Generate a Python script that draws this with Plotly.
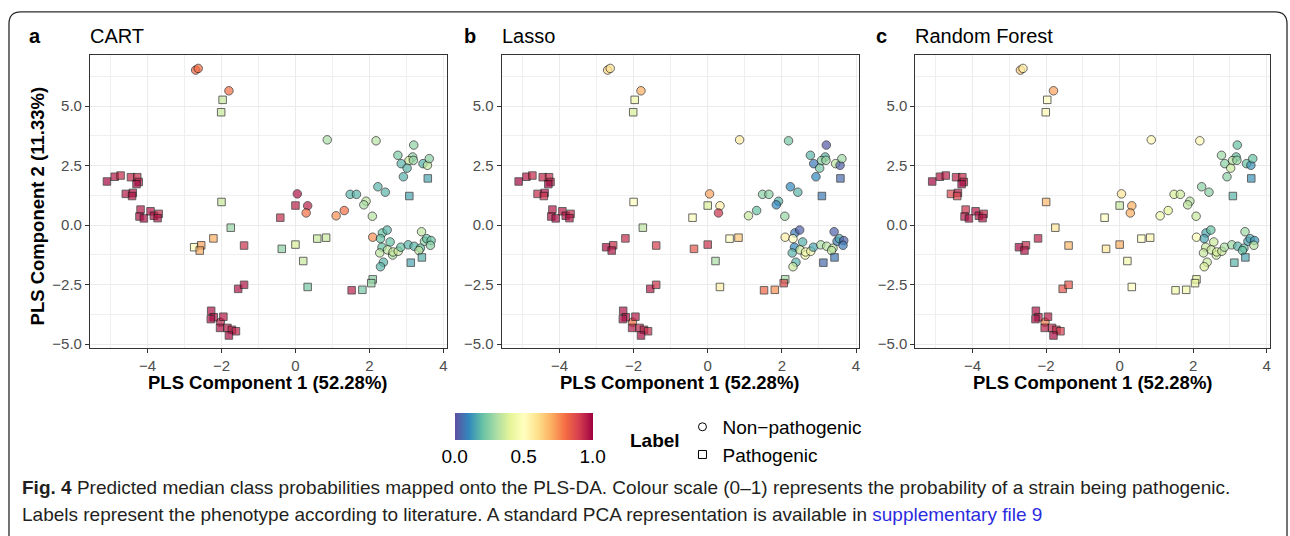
import plotly.graph_objects as go

# ---------------- data ----------------
pc1 = [-2.03, -2.70, -2.63, -1.80,
       0.86, 2.18, 3.20, 2.77, 3.17, 3.07, 3.19, 2.86, 3.02, 2.92, 3.45, 3.57, 3.62,
       2.23, 2.43, 1.48, 1.65, 1.91, 1.85, 2.08, 0.05, 0.33, 0.29, 1.10, 1.32, 2.09,
       2.35, 2.48, 2.30, 2.56, 2.34, 2.28, 2.49, 2.63, 2.64, 2.78, 2.85, 3.05, 3.21,
       3.38, 3.34, 3.41, 3.49, 3.55, 3.67, 3.65, 2.38, 2.30,
       -1.97, -2.01,
       -5.10, -4.89, -4.73, -4.45, -4.28, -4.24, -4.30, -4.59, -4.40, -4.42, -4.19,
       -4.22, -4.10, -3.92, -3.83, -3.70, -3.73,
       -2.00, -1.75, -2.22, -2.74, -2.55, -2.59, -1.39, -1.55, -1.39,
       -2.28, -2.21, -2.29, -1.95, -2.04, -1.84, -1.72, -1.61, -1.80,
       0.00, -0.41, 0.59, 0.83, 0.00, -0.37, 0.21, 0.33, 1.52, 1.81, 2.09, 2.05,
       3.58, 3.08, 3.12, 3.42]
pc2 = [-4.08, 6.51, 6.58, 5.64,
       3.58, 3.54, 3.36, 2.93, 2.86, 2.71, 2.72, 2.58, 2.39, 2.03, 2.58, 2.51, 2.79,
       1.61, 1.38, 1.29, 1.29, 1.00, 0.85, 0.37, 1.31, 0.81, 0.51, 0.39, 0.61, -0.51,
       -0.33, -0.21, -0.57, -0.71, -0.93, -1.17, -1.04, -1.26, -1.13, -1.10, -0.93, -0.83, -0.89,
       -0.97, -1.07, -0.28, -0.68, -0.57, -0.65, -0.85, -1.56, -1.75,
       5.26, 4.74,
       1.83, 2.03, 2.08, 2.01, 2.01, 1.81, 1.72, 1.31, 1.35, 1.22, 0.65,
       0.36, 0.28, 0.58, 0.39, 0.47, 0.29,
       0.97, -0.11, -0.56, -0.93, -0.85, -1.07, -0.86, -2.68, -2.51,
       -3.60, -3.87, -3.95, -3.85, -4.32, -4.32, -4.40, -4.46, -4.64,
       0.82, 0.31, -0.57, -0.53, -0.82, -1.00, -1.51, -2.60, -2.74, -2.72, -2.28, -2.44,
       1.96, 1.22, -1.58, -1.36]
label = (["Non-pathogenic"] * 52) + (["Pathogenic"] * 54)
prob_cart = [0.95, 0.82, 0.80, 0.80,
             0.30, 0.32, 0.26, 0.23, 0.26, 0.36, 0.27, 0.18, 0.18, 0.17, 0.17, 0.34, 0.25,
             0.18, 0.18, 0.18, 0.18, 0.33, 0.30, 0.32, 0.97, 0.95, 0.80, 0.75, 0.80, 0.75,
             0.20, 0.18, 0.20, 0.20, 0.20, 0.33, 0.33, 0.30, 0.35, 0.35, 0.20, 0.18, 0.18,
             0.20, 0.33, 0.33, 0.25, 0.20, 0.20, 0.25, 0.18, 0.18,
             0.35, 0.35,
             0.99, 0.96, 0.93, 0.94, 0.93, 0.95, 0.99, 0.96, 0.97, 0.97, 0.96,
             0.97, 0.98, 0.97, 0.97, 0.93, 0.97,
             0.35, 0.27, 0.70, 0.52, 0.72, 0.70, 0.92, 0.97, 0.97,
             0.97, 0.97, 0.98, 0.96, 0.97, 0.96, 0.95, 0.95, 0.98,
             0.95, 0.93, 0.35, 0.35, 0.38, 0.25, 0.35, 0.22, 0.95, 0.22, 0.25, 0.27,
             0.15, 0.15, 0.15, 0.17]
prob_lasso = [0.80, 0.62, 0.58, 0.70,
              0.56, 0.22, 0.02, 0.18, 0.18, 0.25, 0.28, 0.08, 0.22, 0.10, 0.33, 0.03, 0.28,
              0.10, 0.18, 0.25, 0.25, 0.18, 0.10, 0.27, 0.72, 0.55, 0.92, 0.35, 0.20, 0.55,
              0.08, 0.03, 0.50, 0.17, 0.10, 0.18, 0.35, 0.45, 0.45, 0.45, 0.15, 0.30, 0.32,
              0.33, 0.33, 0.03, 0.08, 0.15, 0.03, 0.08, 0.17, 0.35,
              0.45, 0.38,
              0.99, 0.96, 0.93, 0.94, 0.93, 0.95, 0.99, 0.93, 0.97, 0.92, 0.96,
              0.97, 0.98, 0.96, 0.97, 0.93, 0.97,
              0.50, 0.33, 0.93, 0.98, 0.93, 0.97, 0.90, 0.96, 0.92,
              0.97, 0.97, 0.98, 0.96, 0.96, 0.95, 0.94, 0.93, 0.98,
              0.38, 0.48, 0.50, 0.65, 0.92, 0.85, 0.30, 0.55, 0.82, 0.75, 0.30, 0.88,
              0.05, 0.08, 0.05, 0.07]
prob_rf = [0.78, 0.65, 0.55, 0.72,
           0.52, 0.52, 0.20, 0.28, 0.20, 0.32, 0.27, 0.25, 0.35, 0.25, 0.20, 0.12, 0.20,
           0.25, 0.25, 0.38, 0.36, 0.32, 0.33, 0.35, 0.58, 0.70, 0.70, 0.45, 0.40, 0.47,
           0.15, 0.20, 0.15, 0.35, 0.35, 0.35, 0.35, 0.36, 0.38, 0.35, 0.30, 0.28, 0.18,
           0.20, 0.20, 0.28, 0.15, 0.15, 0.12, 0.32, 0.35, 0.38,
           0.50, 0.52,
           0.99, 0.97, 0.95, 0.95, 0.93, 0.95, 0.99, 0.88, 0.96, 0.88, 0.92,
           0.96, 0.98, 0.96, 0.97, 0.94, 0.97,
           0.68, 0.58, 0.95, 0.99, 0.93, 0.97, 0.68, 0.85, 0.85,
           0.97, 0.96, 0.98, 0.96, 0.95, 0.94, 0.93, 0.90, 0.98,
           0.35, 0.50, 0.50, 0.53, 0.70, 0.58, 0.45, 0.50, 0.45, 0.45, 0.40, 0.42,
           0.12, 0.18, 0.18, 0.15]

models = ["CART", "Lasso", "Random Forest"]
panel_letters = ["a", "b", "c"]
probs = [prob_cart, prob_lasso, prob_rf]
x_tickvals = [-4, -2, 0, 2, 4]
x_ticktext = ["\u22124", "\u22122", "0", "2", "4"]
y_tickvals = [-5, -2.5, 0, 2.5, 5]
y_ticktext = ["\u22125.0", "\u22122.5", "0.0", "2.5", "5.0"]
cbar_tickvals = [0, 0.5, 1.0]
cbar_ticktext = ["0.0", "0.5", "1.0"]
x_title = "PLS Component 1 (52.28%)"
y_title = "PLS Component 2 (11.33%)"

# ---------------- styling ----------------
W, H = 1290, 536
spectral_r = ["#5E4FA2", "#3288BD", "#66C2A5", "#ABDDA4", "#E6F598", "#FFFFBF",
              "#FEE08B", "#FDAE61", "#F46D43", "#D53E4F", "#9E0142"]
colorscale = [[i / 10, c] for i, c in enumerate(spectral_r)]
FONT = "Liberation Sans, Arial, Helvetica, sans-serif"


def px_x(p):
    return p / W


def px_y(p):
    return 1 - p / H


x_domains_px = [(90, 447), (502, 860), (916, 1271)]
y_domain_px = (55.5, 351)
letter_x = [35, 470, 882]

symbols = ["circle" if l == "Non-pathogenic" else "square" for l in label]
sizes = [8.5 if l == "Non-pathogenic" else 7.5 for l in label]

fig = go.Figure()
for i in range(3):
    suffix = "" if i == 0 else str(i + 1)
    fig.add_trace(go.Scatter(
        x=pc1, y=pc2, mode="markers",
        xaxis="x" + suffix, yaxis="y" + suffix,
        marker=dict(symbol=symbols, size=sizes, color=probs[i], coloraxis="coloraxis",
                    line=dict(color="#111111", width=0.9)),
        showlegend=False, hoverinfo="skip"))

# legend entries
fig.add_trace(go.Scatter(x=[None], y=[None], mode="markers", name="Non\u2212pathogenic",
                         marker=dict(symbol="circle-open", size=8, color="black", line=dict(width=1)),
                         legendgroup="g1"))
fig.add_trace(go.Scatter(x=[None], y=[None], mode="markers", name="Pathogenic",
                         marker=dict(symbol="square-open", size=8, color="black", line=dict(width=1)),
                         legendgroup="g2"))

layout = dict(
    width=W, height=H, margin=dict(l=0, r=0, t=0, b=0),
    paper_bgcolor="white", plot_bgcolor="white",
    font=dict(family=FONT, color="black"),
    coloraxis=dict(
        colorscale=colorscale, cmin=0, cmax=1,
        colorbar=dict(orientation="h", x=px_x(524), xanchor="center",
                      y=px_y(440.5), yanchor="middle", len=138, lenmode="pixels",
                      thickness=27, thicknessmode="pixels", outlinewidth=0,
                      tickvals=cbar_tickvals, ticktext=cbar_ticktext, ticks="",
                      tickfont=dict(size=19, color="black", family=FONT),
                      xpad=0, ypad=0)),
    showlegend=True,
    legend=dict(x=px_x(683), xanchor="left", y=px_y(411), yanchor="top",
                font=dict(size=19, color="black", family=FONT),
                bgcolor="rgba(0,0,0,0)", tracegroupgap=0),
)

for i in range(3):
    suffix = "" if i == 0 else str(i + 1)
    x0, x1 = x_domains_px[i]
    layout["xaxis" + suffix] = dict(
        domain=[px_x(x0), px_x(x1)], anchor="y" + suffix, range=[-5.56, 4.09],
        tickmode="array", tickvals=x_tickvals, ticktext=x_ticktext,
        ticks="outside", ticklen=4, tickwidth=1, tickcolor="#333333",
        showline=True, mirror=True, linecolor="#333333", linewidth=1,
        showgrid=True, gridcolor="#EBEBEB", gridwidth=1.1, zeroline=False,
        minor=dict(tickvals=[-5, -3, -1, 1, 3], showgrid=True, gridcolor="#EFEFEF",
                   gridwidth=0.6, ticks=""),
        tickfont=dict(size=15, color="#4D4D4D", family=FONT), fixedrange=True)
    layout["yaxis" + suffix] = dict(
        domain=[px_y(y_domain_px[1]), px_y(y_domain_px[0])], anchor="x" + suffix,
        range=[-5.18, 7.14],
        tickmode="array", tickvals=y_tickvals, ticktext=y_ticktext,
        ticks="outside", ticklen=4, tickwidth=1, tickcolor="#333333",
        showline=True, mirror=True, linecolor="#333333", linewidth=1,
        showgrid=True, gridcolor="#EBEBEB", gridwidth=1.1, zeroline=False,
        minor=dict(tickvals=[-3.75, -1.25, 1.25, 3.75, 6.25], showgrid=True,
                   gridcolor="#EFEFEF", gridwidth=0.6, ticks=""),
        tickfont=dict(size=15, color="#4D4D4D", family=FONT), fixedrange=True)

annotations = []
for i in range(3):
    x0, x1 = x_domains_px[i]
    annotations.append(dict(x=px_x((x0 + x1) / 2), y=px_y(385), xref="paper", yref="paper",
                            text="<b>" + x_title + "</b>", showarrow=False,
                            xanchor="center", yanchor="middle",
                            font=dict(size=18.5, color="black", family=FONT)))
    annotations.append(dict(x=px_x(letter_x[i]), y=px_y(36), xref="paper", yref="paper",
                            text="<b>" + panel_letters[i] + "</b>", showarrow=False,
                            xanchor="center", yanchor="middle",
                            font=dict(size=20, color="black", family=FONT)))
    annotations.append(dict(x=px_x(x0 - 2), y=px_y(36), xref="paper", yref="paper",
                            text=models[i], showarrow=False,
                            xanchor="left", yanchor="middle",
                            font=dict(size=20, color="black", family=FONT)))
annotations.append(dict(x=px_x(37), y=px_y(207), xref="paper", yref="paper",
                        text="<b>" + y_title + "</b>", showarrow=False, textangle=-90,
                        xanchor="center", yanchor="middle",
                        font=dict(size=18.5, color="black", family=FONT)))
annotations.append(dict(x=px_x(628), y=px_y(444), xref="paper", yref="paper",
                        text="<b>Label</b>", showarrow=False,
                        xanchor="left", yanchor="middle",
                        font=dict(size=19, color="black", family=FONT)))

CAP_FONT = "Liberation Sans, Arial, sans-serif"
annotations.append(dict(
    x=px_x(20), y=px_y(491), xref="paper", yref="paper", showarrow=False,
    xanchor="left", yanchor="middle",
    text="<b>Fig. 4</b> Predicted median class probabilities mapped onto the PLS-DA. "
         "Colour scale (0\u20131) represents the probability of a strain being pathogenic.",
    font=dict(size=19, color="#231F20", family=CAP_FONT)))
annotations.append(dict(
    x=px_x(20), y=px_y(518), xref="paper", yref="paper", showarrow=False,
    xanchor="left", yanchor="middle",
    text="Labels represent the phenotype according to literature. A standard PCA "
         "representation is available in <span style='color:#2B2BE0'>supplementary file 9</span>",
    font=dict(size=19, color="#231F20", family=CAP_FONT)))
layout["annotations"] = annotations

layout["shapes"] = [dict(
    type="path", xref="paper", yref="paper",
    path=("M {a},{b} L {a},{c} Q {a},{d} {e},{d} L {f},{d} Q {g},{d} {g},{c} L {g},{h}"
          .format(a=px_x(9), b=px_y(540), c=px_y(24), d=px_y(12), e=px_x(21),
                  f=px_x(1276), g=px_x(1288), h=px_y(540))),
    line=dict(color="#2A2A2A", width=1.3))]

fig.update_layout(layout)
fig.write_html("out.html")
